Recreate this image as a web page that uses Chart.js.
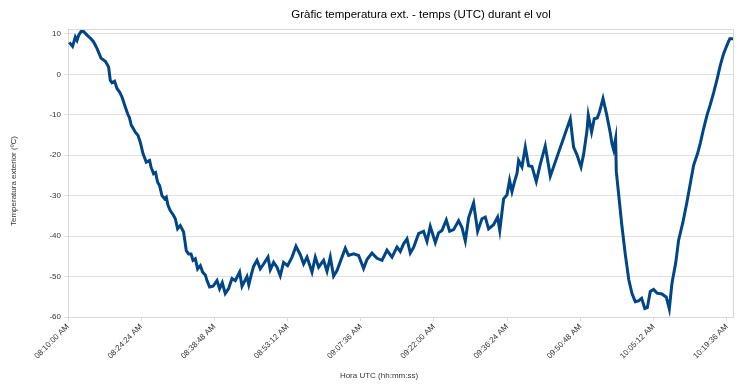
<!DOCTYPE html>
<html>
<head>
<meta charset="utf-8">
<script src="https://cdn.jsdelivr.net/npm/chart.js@4/dist/chart.umd.min.js"></script>
<style>
  body { margin: 0; background: #fff; }
  #wrap { width: 747px; height: 384px; position: relative; }
</style>
</head>
<body>
<div id="wrap"><canvas id="myChart"></canvas></div>
<script>
// start of the flight log, 08:10:00 UTC (seconds of the day)
const startSec = 8 * 3600 + 10 * 60;

// minutes elapsed since 08:10:00
const minutes = [
  0.26, 0.90, 1.44, 1.77, 2.09, 2.56, 3.07, 3.74, 4.52, 5.04, 5.70, 6.49, 7.34, 7.99, 8.32, 8.66,
  9.17, 9.64, 10.15, 10.62, 11.27, 11.80, 12.06, 12.45, 12.79, 13.24, 13.77, 14.22, 14.75, 15.40,
  16.05, 16.33, 16.84, 17.23, 17.63, 18.02, 18.49, 19.00, 19.34, 19.67, 20.12, 20.77, 21.11, 21.56,
  22.09, 22.74, 23.27, 23.72, 24.20, 24.59, 25.04, 25.50, 26.03, 26.48, 27.01, 27.34, 27.86, 28.52,
  29.31, 29.82,
  30.35, 30.94, 31.59, 32.26, 32.91, 33.76, 34.23, 35.21, 35.57, 36.06, 36.51, 37.18, 37.83, 38.48,
  39.34, 39.80, 40.45, 41.11, 41.76, 42.41, 43.20, 44.07, 44.85, 45.70, 46.35, 47.02, 48.00, 48.65,
  49.30, 50.28, 50.95, 51.60, 52.25, 52.92, 53.90, 54.55, 55.20, 56.18, 57.17,
  58.15, 58.82, 59.80, 60.79, 61.77, 62.75, 63.74, 64.72, 65.37, 66.02, 66.69, 67.34, 67.99, 68.97,
  69.95, 70.62, 71.27, 72.26, 72.90, 73.57, 74.42, 75.07, 75.86, 76.84, 77.51, 78.16, 78.81, 79.79,
  80.58, 81.44, 82.09, 82.74, 83.72, 84.51, 84.94, 85.69, 86.36, 86.87, 87.34, 87.80, 88.33, 88.64,
  89.31, 89.96, 90.61, 91.28, 92.12, 92.91, 93.89, 94.88,
  98.81, 99.46, 100.09, 100.92, 101.43, 102.10, 102.35, 103.00, 103.53, 104.12, 104.56, 105.25,
  105.96, 106.68, 107.02, 107.33, 107.73, 107.86, 108.31, 108.94, 109.63, 110.32, 110.95, 111.60,
  112.25, 112.84, 113.47, 113.96, 114.55, 115.20, 115.87, 116.85, 117.70, 118.29, 118.82, 119.57,
  120.12, 120.98, 121.77, 122.42, 123.07, 123.85, 124.39, 125.04, 125.71, 126.35, 127.00, 127.67,
  128.32, 128.97, 129.64, 130.19, 130.82
];

// outside temperature (ºC)
const temps = [
  7.9, 6.9, 9.2, 8.4, 9.6, 10.6, 10.6, 9.7, 8.8, 8.0, 6.4, 4.0, 3.2, 1.8, -1.5, -2.1,
  -1.7, -3.5, -4.4, -5.6, -8.1, -10.0, -10.6, -12.6, -13.3, -14.3, -15.1, -16.8, -19.6, -21.7,
  -21.3, -22.9, -24.6, -24.3, -26.7, -27.5, -30.0, -30.8, -30.4, -32.4, -33.7, -34.9, -35.7, -38.2,
  -37.4, -39.0, -43.6, -44.4, -44.4, -46.0, -45.6, -48.1, -47.3, -48.9, -49.6, -51.0, -52.6, -52.4,
  -51.0, -53.0,
  -51.5, -54.2, -53.0, -50.5, -51.0, -48.9, -52.4, -50.0, -52.0, -49.5, -47.5, -46.0, -48.1, -46.9,
  -45.2, -48.3, -46.5, -47.7, -49.8, -46.5, -47.3, -45.2, -42.5, -44.6, -46.9, -45.2, -48.9, -45.2,
  -47.7, -46.0, -48.7, -45.2, -49.9, -48.5, -45.2, -43.0, -44.8, -44.4, -44.8,
  -48.0, -45.8, -44.2, -45.5, -46.0, -43.5, -45.2, -42.7, -43.8, -41.9, -40.7, -44.2, -42.8, -39.4,
  -38.8, -41.3, -37.6, -41.6, -39.2, -38.6, -36.0, -38.8, -38.4, -36.2, -37.9, -41.2, -35.5, -31.8,
  -38.8, -35.7, -35.3, -38.2, -37.2, -35.3, -38.6, -30.8, -29.8, -26.2, -29.0, -26.7, -24.5, -21.3,
  -22.9, -18.0, -22.6, -22.8, -26.5, -22.2, -17.7, -25.2,
  -11.0, -18.0, -19.8, -22.9, -19.8, -13.9, -10.1, -14.3, -11.0, -10.8, -9.3, -6.0,
  -9.9, -14.5, -17.2, -18.6, -15.9, -24.0, -29.5, -37.2, -44.5, -50.8, -54.2, -56.2,
  -56.0, -55.4, -57.9, -57.7, -53.7, -53.2, -54.1, -54.3, -55.1, -58.0, -51.6, -46.5,
  -41.0, -36.5, -31.5, -27.0, -22.5, -19.6, -17.0, -13.4, -10.1, -7.5, -4.6, -1.3,
  2.2, 5.1, 7.2, 8.8, 8.8
];

const yTicks = [-60, -50, -40, -30, -20, -10, 0, 10];
const tickStepMin = 14.4; // 00:14:24 between time labels

function horaLabel(m) {
  let s = Math.round(startSec + m * 60);
  let h = Math.floor(s / 3600);
  let mi = Math.floor((s % 3600) / 60);
  let se = s % 60;
  let ap = h < 12 ? 'AM' : 'PM';
  let h12 = h % 12 || 12;
  const p = n => String(n).padStart(2, '0');
  return p(h12) + ':' + p(mi) + ':' + p(se) + ' ' + ap;
}

const punts = minutes.map((m, i) => ({ x: m, y: temps[i] }));

const frame = {
  id: 'frame',
  beforeDatasetsDraw(chart) {
    const a = chart.chartArea, c = chart.ctx;
    c.save();
    c.strokeStyle = '#d9d9d9';
    c.lineWidth = 1;
    c.strokeRect(a.left + 0.5, a.top + 0.5, a.right - a.left, a.bottom - a.top);
    c.restore();
  },
  afterDraw(chart) {
    const c = chart.ctx;
    c.save();
    c.fillStyle = '#000';
    c.textAlign = 'center';
    c.textBaseline = 'middle';
    c.font = '11.5px "Liberation Sans"';
    c.fillText('Gràfic temperatura ext. - temps (UTC) durant el vol', 421, 15);
    c.font = '8px "Liberation Sans"';
    c.fillStyle = '#333';
    c.fillText('Hora UTC (hh:mm:ss)', 379, 376);
    c.translate(14, 181);
    c.rotate(-Math.PI / 2);
    c.fillText('Temperatura exterior (ºC)', 0, 0);
    c.restore();
  }
};

const ctx = document.getElementById('myChart');

new Chart(ctx, {
  type: 'line',
  data: {
    datasets: [{
      label: 'Temperatura exterior',
      data: punts,
      borderColor: '#004586',
      borderWidth: 3,
      pointRadius: 0,
      tension: 0,
      fill: false
    }]
  },
  options: {
    responsive: true,
    maintainAspectRatio: false,
    animation: false,
    layout: { padding: { top: 29, right: 14, left: 0, bottom: 0 } },
    plugins: { legend: { display: false }, tooltip: { enabled: false } },
    scales: {
      x: {
        type: 'linear',
        min: 0,
        max: minutes[minutes.length - 1],
        afterFit: s => { s.height = 67; },
        grid: { drawOnChartArea: false, drawTicks: true, tickLength: 4, color: '#d9d9d9' },
        border: { color: '#d9d9d9' },
        ticks: {
          stepSize: tickStepMin,
          includeBounds: false,
          autoSkip: false,
          maxRotation: 45,
          minRotation: 45,
          padding: 1,
          color: '#333',
          font: { family: 'Liberation Sans', size: 8 },
          callback: v => horaLabel(v)
        }
      },
      y: {
        min: yTicks[0],
        max: 11.2,
        afterFit: s => { s.width = 68; },
        afterBuildTicks: s => { s.ticks = yTicks.map(v => ({ value: v })); },
        grid: { color: '#e0e0e0', tickLength: 4 },
        border: { color: '#d9d9d9' },
        ticks: {
          padding: 3,
          color: '#333',
          font: { family: 'Liberation Sans', size: 8 }
        }
      }
    }
  },
  plugins: [frame]
});
</script>
</body>
</html>
